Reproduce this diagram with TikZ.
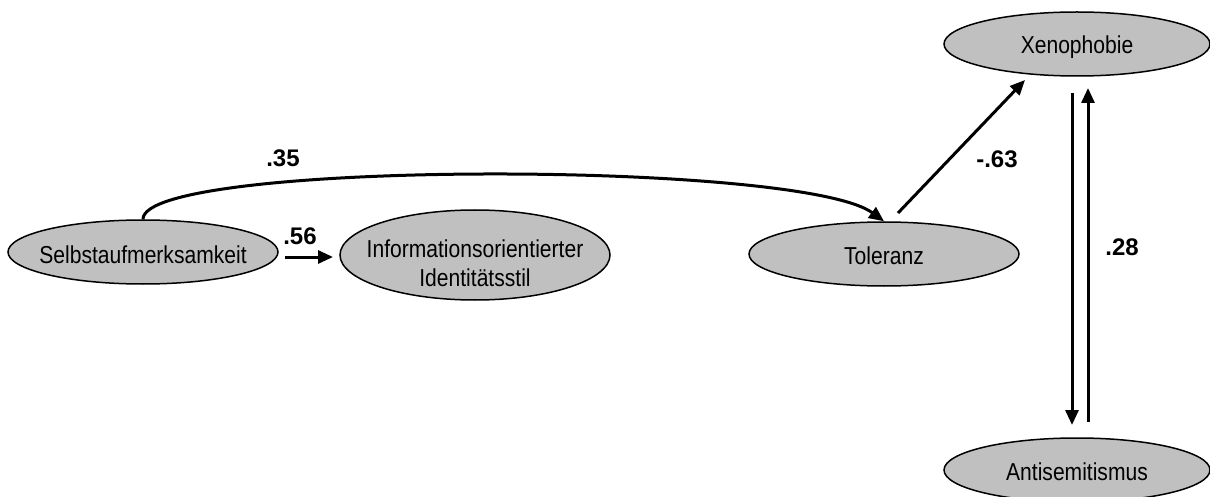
\documentclass[tikz,border=0pt]{standalone}
\usepackage{fontspec}
\usepackage{graphicx}
\setmainfont{Liberation Sans}
\usetikzlibrary{shapes.geometric,arrows.meta}
\definecolor{nodegray}{HTML}{C0C0C0}
\newcommand{\vartext}[2][-11pt]{\smash{\makebox[0pt]{\raisebox{#1}{\fontsize{24.5}{29}\selectfont\scalebox{0.86}[1]{#2}}}}}
\begin{document}
\begin{tikzpicture}[x=1pt,y=-1pt,
  var/.style={ellipse,draw=black,line width=1.5pt,fill=nodegray,inner sep=0pt,
    minimum width=270pt,minimum height=64pt},
  path/.style={line width=3pt,-{Triangle[length=15pt,width=13pt]}},
  coef/.style={font=\bfseries\fontsize{24}{29}\selectfont,inner sep=0pt}]
\useasboundingbox (0,0) rectangle (1210,497);
\node[var] (selbst) at (143,252) {\vartext{Selbstaufmerksamkeit}};
\node[var,minimum height=90pt] (info) at (475,255) {\vartext[-2pt]{\begin{tabular}[t]{@{}c@{}}Informationsorientierter\\Identitätsstil\end{tabular}}};
\node[var] (tol) at (884,254) {\vartext{Toleranz}};
\node[var,minimum width=266pt] (xeno) at (1077,44) {\vartext[-10pt]{Xenophobie}};
\node[var,minimum width=266pt] (anti) at (1077,470) {\vartext[-10pt]{Antisemitismus}};
\coordinate (a56s) at (285,257);
\coordinate (a56e) at (333,257);
\draw[path] (a56s) -- (a56e);
\draw[path] (selbst.north) .. controls (143,160) and (800,160) .. (tol.north);
\coordinate (a63s) at (898,213);
\coordinate (a63e) at (1025,80);
\draw[path] (a63s) -- (a63e);
\coordinate (dns) at (1072,93);
\coordinate (dne) at (1072,425);
\draw[path] (dns) -- (dne);
\coordinate (ups) at (1088,422);
\coordinate (upe) at (1088,88);
\draw[path] (ups) -- (upe);
\node[coef] (l35) at (283,158) {.35};
\node[coef] (l56) at (300,236) {.56};
\node[coef] (l63) at (997,159) {-.63};
\node[coef] (l28) at (1122,247) {.28};
\end{tikzpicture}
\end{document}
